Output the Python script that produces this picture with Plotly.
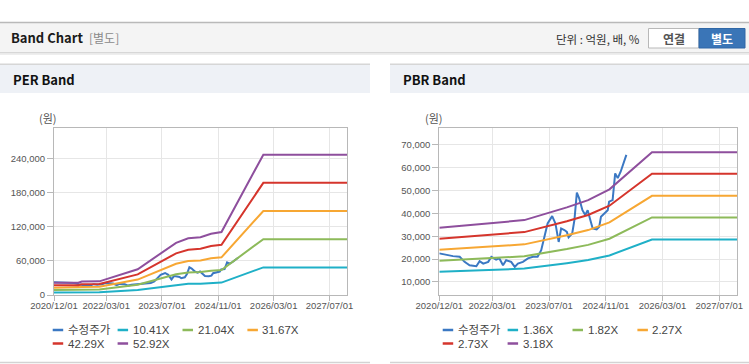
import plotly.graph_objects as go

# ---------------- data ----------------
price_dates = ["2020-12-01", "2021-02-03", "2021-03-28", "2021-05-25", "2021-07-06", "2021-08-18",
               "2021-10-15", "2021-11-12", "2021-12-13", "2022-01-25", "2022-02-21", "2022-04-03",
               "2022-05-01", "2022-06-01", "2022-06-28", "2022-08-10", "2022-09-10", "2022-10-07",
               "2022-11-19", "2023-01-01", "2023-02-13", "2023-03-25", "2023-04-25", "2023-05-22",
               "2023-06-19", "2023-07-28", "2023-08-25", "2023-09-22", "2023-10-13", "2023-11-10",
               "2023-12-01", "2023-12-16", "2024-01-16", "2024-02-04", "2024-02-25", "2024-03-16",
               "2024-04-13", "2024-05-07", "2024-05-28", "2024-06-16", "2024-07-10", "2024-08-13",
               "2024-09-04", "2024-09-19", "2024-10-16", "2024-11-16", "2024-11-28", "2024-12-28",
               "2025-01-19", "2025-02-10", "2025-03-07", "2025-04-01", "2025-04-25"]
price_values = [22500, 21700, 21300, 21000, 18800, 17300,
                16900, 19100, 18000, 18800, 21000, 19800,
                20300, 17300, 19500, 18800, 16600, 18000,
                18800, 20300, 21000, 21000, 23900, 29700,
                35600, 38800, 35600, 27500, 33400, 32700,
                31900, 29500, 31200, 37000, 49100, 46600,
                41400, 39300, 41400, 37800, 33400, 33000,
                34100, 38500, 39700, 41400, 45100, 45800,
                57500, 55400, 58200, 61900, 65600]

per_dates = ["2020-12-01", "2021-07-01", "2021-08-01", "2022-01-01", "2022-12-01", "2023-11-01",
             "2024-02-15", "2024-06-01", "2024-09-01", "2024-12-01", "2025-12-01", "2027-12-01"]
per_1041 = [4268, 4268, 4685, 4737, 8932, 18093, 19675, 20060, 21247, 21830, 48688, 48688]
per_2104 = [8626, 8626, 9468, 9573, 18052, 36568, 39766, 40544, 42943, 44121, 98404, 98404]
per_3167 = [12985, 12985, 14252, 14410, 27173, 55042, 59856, 61028, 64638, 66412, 148121, 148121]
per_4229 = [17339, 17339, 19031, 19242, 36285, 73500, 79928, 81493, 86314, 88682, 197790, 197790]
per_5292 = [21697, 21697, 23814, 24079, 45405, 91975, 100019, 101977, 108010, 110973, 247507, 247507]

pbr_dates = ["2020-12-01", "2021-12-01", "2022-12-01", "2023-12-01", "2024-06-01", "2024-12-01",
             "2025-12-01", "2027-12-01"]
pbr_136 = [14416, 15096, 15844, 18224, 19584, 21597, 28560, 28560]
pbr_182 = [19292, 20202, 21203, 24388, 26208, 28902, 38220, 38220]
pbr_227 = [24062, 25197, 26446, 30418, 32688, 36048, 47670, 47670]
pbr_273 = [28938, 30303, 31805, 36582, 39312, 43352, 57330, 57330]
pbr_318 = [33708, 35298, 37047, 42612, 45792, 50498, 66780, 66780]

per_names = ["수정주가", "10.41X", "21.04X", "31.67X", "42.29X", "52.92X"]
pbr_names = ["수정주가", "1.36X", "1.82X", "2.27X", "2.73X", "3.18X"]

x_tick_vals = ["2020-12-01", "2022-03-01", "2023-07-01", "2024-11-01", "2026-03-01", "2027-07-01"]
x_tick_text = ["2020/12/01", "2022/03/01", "2023/07/01", "2024/11/01", "2026/03/01", "2027/07/01"]
per_y_ticks = [0, 60000, 120000, 180000, 240000]
pbr_y_ticks = [10000, 20000, 30000, 40000, 50000, 60000, 70000]

# ---------------- styles ----------------
W, H = 749, 364
colors = ["#3b78c3", "#1fb0c7", "#8dba5a", "#f7a733", "#d5352c", "#8e4f9d"]
FONT = "Liberation Sans, Noto Sans CJK KR, sans-serif"
KFONT = "Noto Sans CJK KR, Liberation Sans, sans-serif"


def px(x):
    return x / W


def py(y):
    return 1 - y / H


fig = go.Figure()

per_series = [per_1041, per_2104, per_3167, per_4229, per_5292]
pbr_series = [pbr_136, pbr_182, pbr_227, pbr_273, pbr_318]

fig.add_trace(go.Scatter(x=price_dates, y=price_values, mode="lines", name=per_names[0],
                         line=dict(color=colors[0], width=2), xaxis="x", yaxis="y"))
for i, s in enumerate(per_series):
    fig.add_trace(go.Scatter(x=per_dates, y=s, mode="lines", name=per_names[i + 1],
                             line=dict(color=colors[i + 1], width=2), xaxis="x", yaxis="y"))

fig.add_trace(go.Scatter(x=price_dates, y=price_values, mode="lines", name=pbr_names[0],
                         line=dict(color=colors[0], width=2), xaxis="x2", yaxis="y2"))
for i, s in enumerate(pbr_series):
    fig.add_trace(go.Scatter(x=pbr_dates, y=s, mode="lines", name=pbr_names[i + 1],
                             line=dict(color=colors[i + 1], width=2), xaxis="x2", yaxis="y2"))

axis_common = dict(showgrid=True, gridcolor="#e6e6e6", showline=True, mirror=True,
                   linecolor="#b8b8b8", linewidth=1, ticks="outside", tickcolor="#b8b8b8",
                   tickfont=dict(family=FONT, size=9.5, color="#555"), zeroline=False,
                   automargin=False)

ydom = [py(295), py(128.3)]
fig.update_layout(
    width=W, height=H, margin=dict(l=0, r=0, t=0, b=0, pad=0, autoexpand=False),
    paper_bgcolor="white", plot_bgcolor="white", showlegend=False,
    xaxis=dict(domain=[px(54), px(347)], type="date", range=["2020-12-01", "2027-12-01"],
               tickvals=x_tick_vals, ticktext=x_tick_text, ticklen=5, tickangle=0,
               ticklabelstandoff=-3, anchor="y", **axis_common),
    yaxis=dict(domain=ydom, range=[0, 294000], tickvals=per_y_ticks, tickformat=",",
               ticklen=6, anchor="x", **axis_common),
    xaxis2=dict(domain=[px(439.3), px(737)], type="date", range=["2020-12-01", "2027-12-01"],
                tickvals=x_tick_vals, ticktext=x_tick_text, ticklen=5, tickangle=0,
                ticklabelstandoff=-3, anchor="y2", **axis_common),
    yaxis2=dict(domain=ydom, range=[4300, 77200], tickvals=pbr_y_ticks, tickformat=",",
                ticklen=6, anchor="x2", **axis_common),
)

shapes = []
ann = []


def rect(x0, y0, x1, y1, fill, line=None, lw=0):
    shapes.append(dict(type="rect", xref="paper", yref="paper", x0=px(x0), x1=px(x1),
                       y0=py(y1), y1=py(y0), fillcolor=fill, layer="below",
                       line=dict(color=line or fill, width=lw)))


def hline(x0, x1, y, color, w=1):
    shapes.append(dict(type="line", xref="paper", yref="paper", x0=px(x0), x1=px(x1),
                       y0=py(y), y1=py(y), line=dict(color=color, width=w)))


def text(x, y, t, size=12, color="#333", bold=False, anchor="left", family=KFONT):
    if bold:
        t = "<b>" + t + "</b>"
    ann.append(dict(xref="paper", yref="paper", x=px(x), y=py(y), text=t, showarrow=False,
                    xanchor=anchor, yanchor="middle",
                    font=dict(family=family, size=size, color=color)))


# header bar
rect(0, 22.5, W, 52.5, "#f4f4f4")
hline(0, W, 22.5, "#b9b9b9", 1.5)
hline(0, W, 52.8, "#c9c9c9", 1)
hline(0, W, 54, "#e8e8e8", 1.5)
text(9, 38, "Band Chart", size=13, color="#1a1a1a", bold=True)
text(87, 38, "[별도]", size=12, color="#8a8a8a")
text(642, 39, "단위 : 억원, 배, %", size=11.5, color="#333", anchor="right")
rect(648.5, 28.5, 699, 48, "white", "#b8b8b8", 1)
text(673.7, 38.5, "연결", size=12, color="#555", bold=True, anchor="center")
rect(699, 28.5, 745, 48, "#3a75b7", "#2f67a6", 1)
text(722, 38.5, "별도", size=12, color="white", bold=True, anchor="center")

# panel headers
for (x0, x1, title) in [(0, 370, "PER Band"), (390, 749, "PBR Band")]:
    rect(x0, 64.5, x1, 93, "#eef1f6")
    hline(x0, x1, 64.3, "#d6d6d6", 1.5)
    hline(x0, x1, 362.5, "#d3d3d3", 1.5)
    text(x0 + 11, 79.5, title, size=13, color="#111", bold=True)

text(37, 118, "(원)", size=11, color="#555")
text(423, 118, "(원)", size=11, color="#555")

# legends
for (lx, names) in [(52.7, per_names), (442.7, pbr_names)]:
    for i, nm in enumerate(names):
        col, row = i % 4, i // 4
        x0 = lx + col * 64.9
        yy = 330 + row * 13.5
        shapes.append(dict(type="line", xref="paper", yref="paper", x0=px(x0), x1=px(x0 + 10.5),
                           y0=py(yy), y1=py(yy), line=dict(color=colors[i], width=2.5)))
        text(x0 + 13, yy, nm, size=11.5, color="#444", family=FONT)

fig.update_layout(shapes=shapes, annotations=ann)
fig.write_html("out.html", config={"displayModeBar": False},
               post_script="document.body.style.margin='0';document.body.style.overflow='hidden';")
